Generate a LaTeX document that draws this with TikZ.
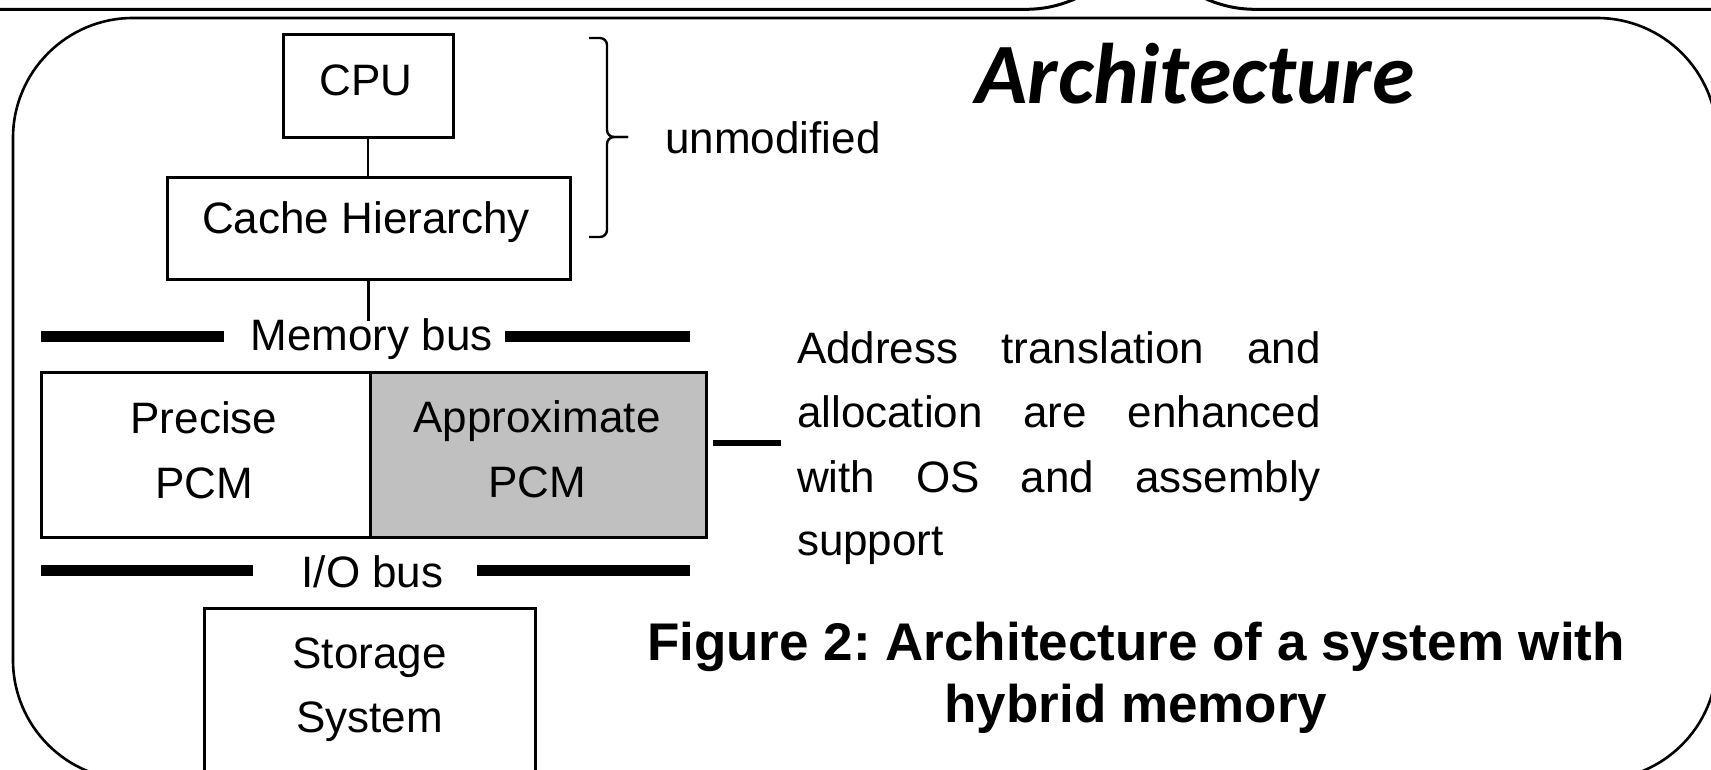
\documentclass[tikz,border=0pt]{standalone}
\usepackage{fontspec}
\setmainfont{Liberation Sans}
\newfontfamily\archfont{Carlito}
\definecolor{approxgray}{HTML}{C0C0C0}
\frenchspacing
\begin{document}
\begin{tikzpicture}[x=1pt,y=-1pt,
  panel/.style={draw, line width=2.6pt, rounded corners=120pt},
  unit/.style={draw, line width=3pt, inner sep=0pt, outer sep=0pt, fill=white},
  lbl/.style={inner sep=0pt, outer sep=0pt, anchor=base, font=\fontsize{44}{64}\selectfont},
  para/.style={inner sep=0pt, outer sep=0pt, anchor=base west, font=\fontsize{44}{64}\selectfont},
  captionline/.style={inner sep=0pt, outer sep=0pt, anchor=base, font=\fontsize{53}{62}\selectfont\bfseries},
  wire/.style={line width=2.6pt},
  bus/.style={line width=11pt},
  link/.style={line width=6pt}]

% canvas
\useasboundingbox (0,0) rectangle (1711,770);
\clip (0,0) rectangle (1711,770);
\fill[white] (0,0) rectangle (1711,770);

% neighbouring panels above and the architecture panel
\draw[panel, line width=3pt] (-300,-400) rectangle (1146,9.3);
\draw[panel, line width=3pt] (1135,9.3) rectangle (2000,-400);
\draw[panel] (13,18) rectangle (1717,780);

% processor side
\node[unit, minimum width=170pt, minimum height=103pt] (cpu) at (368,86.5) {};
\node[unit, minimum width=403pt, minimum height=101pt] (cache) at (368.5,228.5) {};
\node[lbl] (cpuText) at (366,96) {CPU};
\node[lbl] (cacheText) at (366,234) {Cache Hierarchy};
\draw[wire] (cpu.south) -- (cpu.south |- cache.north);

% brace marking the unmodified part
\coordinate (braceTop) at (589,38);
\coordinate (braceBot) at (589,237);
\coordinate (braceTip) at (628,137);
\draw[line width=2.4pt, rounded corners=7pt] (braceTop) -- (607,38) -- (607,137) -- (braceTip);
\draw[line width=2.4pt, rounded corners=7pt] (braceBot) -- (607,237) -- (607,137) -- (braceTip);
\node[lbl] (unmod) at (773,154) {unmodified};

% memory bus
\coordinate (tap) at (368,321);
\draw[wire] (cache.south) -- (cache.south |- tap);
\node[lbl] (membus) at (371.5,350) {Memory bus};
\coordinate (mbL1) at (41,336);
\coordinate (mbL2) at (224,336);
\coordinate (mbR1) at (505,336);
\coordinate (mbR2) at (690,336);
\draw[bus] (mbL1) -- (mbL2);
\draw[bus] (mbR1) -- (mbR2);

% hybrid main memory
\node[unit, minimum width=329pt, minimum height=165pt] (precise) at (205.5,454.5) {};
\node[unit, fill=approxgray, minimum width=336pt, minimum height=165pt] (approx) at (538,454.5) {};
\node[lbl] (preciseA) at (204,433) {Precise};
\node[lbl] (preciseB) at (204,498) {PCM};
\node[lbl] (approxA) at (537,432) {Approximate};
\node[lbl] (approxB) at (537,497) {PCM};

% I/O bus and storage
\node[lbl] (iobus) at (372.5,587) {I/O bus};
\coordinate (ioL1) at (41,570);
\coordinate (ioL2) at (253,570);
\coordinate (ioR1) at (477,570);
\coordinate (ioR2) at (690,570);
\draw[bus] (ioL1) -- (ioL2);
\draw[bus] (ioR1) -- (ioR2);
\node[unit, minimum width=331pt, minimum height=192pt] (storage) at (369.5,704) {};
\node[lbl] (storageA) at (369.5,668) {Storage};
\node[lbl] (storageB) at (369.5,732) {System};

% note on OS support
\coordinate (noteA) at (713,443);
\coordinate (noteB) at (781,443);
\draw[link] (noteA) -- (noteB);
\node[para] (note1) at (797,363) {\makebox[524pt][s]{Address translation and}};
\node[para] (note2) at (797,427) {\makebox[524pt][s]{allocation are enhanced}};
\node[para] (note3) at (797,492) {\makebox[524pt][s]{with OS and assembly}};
\node[para] (note4) at (797,555) {support};

% headings
\node[inner sep=0pt, anchor=base, font=\archfont\fontsize{86}{96}\selectfont\bfseries\itshape] (title) at (1195,104) {Architecture};
\node[captionline] (caption1) at (1136,660) {Figure 2: Architecture of a system with};
\node[captionline] (caption2) at (1136,722) {hybrid memory};
\end{tikzpicture}
\end{document}
